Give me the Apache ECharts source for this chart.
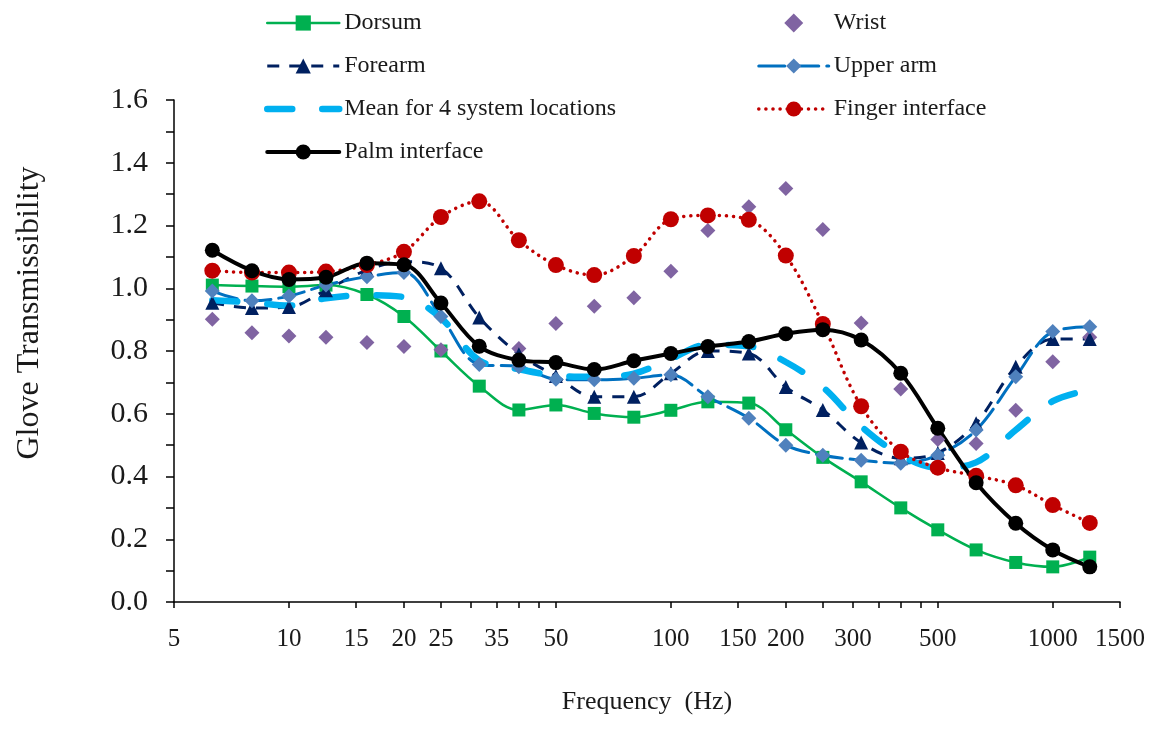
<!DOCTYPE html>
<html>
<head>
<meta charset="utf-8">
<script src="https://cdn.jsdelivr.net/npm/echarts@6/dist/echarts.min.js"></script>
<style>
  html, body { margin: 0; padding: 0; background: #fff; }
  #chart { width: 1175px; height: 747px; }
</style>
</head>
<body>
<div id="chart"></div>
<script>
// One-third-octave band centre frequencies (Hz)
const freqHz = [6.3, 8, 10, 12.5, 16, 20, 25, 31.5, 40, 50, 63, 80, 100, 125, 160, 200, 250, 315, 400, 500, 630, 800, 1000, 1250];

// Glove transmissibility at each band
const dorsum   = [1.010, 1.007, 1.005, 1.010, 0.980, 0.910, 0.800, 0.688, 0.612, 0.628, 0.601, 0.589, 0.611, 0.638, 0.634, 0.549, 0.461, 0.383, 0.300, 0.230, 0.166, 0.126, 0.112, 0.143];
const wrist    = [0.901, 0.858, 0.848, 0.844, 0.827, 0.814, 0.804, 0.815, 0.808, 0.888, 0.943, 0.970, 1.054, 1.184, 1.260, 1.318, 1.187, 0.889, 0.679, 0.518, 0.505, 0.611, 0.766, 0.844];
const forearm  = [0.954, 0.937, 0.940, 0.994, 1.058, 1.085, 1.064, 0.907, 0.790, 0.720, 0.654, 0.654, 0.729, 0.800, 0.792, 0.685, 0.612, 0.508, 0.458, 0.475, 0.570, 0.750, 0.838, 0.838];
const upperArm = [0.991, 0.960, 0.975, 1.010, 1.037, 1.050, 0.910, 0.757, 0.750, 0.710, 0.708, 0.713, 0.724, 0.654, 0.586, 0.500, 0.468, 0.452, 0.442, 0.468, 0.548, 0.718, 0.862, 0.877];
const meanSys  = [0.962, 0.955, 0.945, 0.968, 0.978, 0.972, 0.905, 0.770, 0.742, 0.722, 0.718, 0.728, 0.775, 0.820, 0.815, 0.765, 0.685, 0.560, 0.468, 0.428, 0.445, 0.548, 0.640, 0.676];
const finger   = [1.056, 1.050, 1.050, 1.053, 1.074, 1.116, 1.227, 1.277, 1.153, 1.074, 1.042, 1.103, 1.220, 1.232, 1.218, 1.104, 0.886, 0.624, 0.479, 0.428, 0.402, 0.372, 0.309, 0.252];
const palm     = [1.121, 1.056, 1.028, 1.035, 1.080, 1.075, 0.953, 0.815, 0.771, 0.763, 0.741, 0.769, 0.792, 0.814, 0.830, 0.855, 0.868, 0.835, 0.729, 0.554, 0.380, 0.251, 0.166, 0.112];

// Axis tick positions and labelled values
const xTickValues  = [5, 10, 15, 20, 25, 30, 35, 40, 45, 50, 100, 150, 200, 250, 300, 350, 400, 450, 500, 1000, 1500];
const xLabelValues = [5, 10, 15, 20, 25, 35, 50, 100, 150, 200, 300, 500, 1000, 1500];

const FONT = 'Liberation Serif';
const TEXT = '#1a1a1a';
const pairs = ys => freqHz.map((f, i) => [f, ys[i]]);

const chart = echarts.init(document.getElementById('chart'), null, { renderer: 'canvas' });

const lineSeries = (name, ys, color, lineType, width, symbol, size, extra) => Object.assign({
  name, type: 'line', data: pairs(ys), smooth: 0.35,
  symbol, symbolSize: size, showSymbol: symbol !== 'none',
  lineStyle: { color, width, type: lineType, cap: 'round' },
  itemStyle: { color, borderWidth: 0 },
  emphasis: { disabled: true }
}, extra || {});

const legendBase = {
  orient: 'vertical', top: 11, padding: 0, itemHeight: 19, itemGap: 19,
  symbolKeepAspect: true,
  lineStyle: { width: 'inherit' },
  textStyle: { fontFamily: FONT, fontSize: 24, color: TEXT }
};

chart.setOption({
  animation: false,
  backgroundColor: '#ffffff',
  grid: { left: 174, right: 55, top: 100, bottom: 145, containLabel: false },
  legend: [
    Object.assign({}, legendBase, {
      left: 264, itemWidth: 72,
      data: ['Dorsum', 'Forearm', { name: 'Mean for 4 system locations', itemStyle: { opacity: 0 } }, 'Palm interface']
    }),
    Object.assign({}, legendBase, {
      left: 757, itemWidth: 70,
      data: [{ name: 'Wrist', icon: 'path://M0,-10L10,0L0,10L-10,0Z' }, 'Upper arm', 'Finger interface']
    })
  ],
  xAxis: {
    type: 'log', logBase: 10, min: 5, max: 1500,
    name: 'Frequency  (Hz)', nameLocation: 'middle', nameGap: 87,
    nameTextStyle: { fontFamily: FONT, fontSize: 26, color: TEXT },
    axisLine: { lineStyle: { color: '#000', width: 1.5 } },
    axisTick: { show: true, inside: false, length: 6, lineStyle: { color: '#000', width: 1.5 }, customValues: xTickValues },
    axisLabel: { fontFamily: FONT, fontSize: 25, color: TEXT, margin: 25, customValues: xLabelValues,
                 formatter: v => String(Math.round(v)) },
    splitLine: { show: false },
    minorTick: { show: false }
  },
  yAxis: {
    type: 'value', min: 0, max: 1.6, interval: 0.2,
    name: 'Glove Transmissibility', nameLocation: 'middle', nameGap: 128,
    nameTextStyle: { fontFamily: FONT, fontSize: 32, color: TEXT, padding: [0, 0, 0, 76] },
    axisLine: { show: true, lineStyle: { color: '#000', width: 1.5 } },
    axisTick: { show: true, inside: false, length: 8, lineStyle: { color: '#000', width: 1.5 } },
    minorTick: { show: true, splitNumber: 2, length: 8, lineStyle: { color: '#000', width: 1.5 } },
    axisLabel: { fontFamily: FONT, fontSize: 30, color: TEXT, margin: 26, formatter: v => v.toFixed(1) },
    splitLine: { show: false }
  },
  series: [
    lineSeries('Dorsum', dorsum, '#00B050', 'solid', 2.5, 'rect', 13),
    lineSeries('Wrist', wrist, '#8064A2', 'solid', 0, 'diamond', 15,
               { lineStyle: { width: 0, opacity: 0 } }),
    lineSeries('Forearm', forearm, '#002060', [12, 10], 3, 'triangle', 14,
               { lineStyle: { color: '#002060', width: 3, type: [12, 10], cap: 'butt' } }),
    lineSeries('Upper arm', upperArm, '#0070C0', [26, 8], 3, 'diamond', 15,
               { itemStyle: { color: '#4F81BD', borderWidth: 0 } }),
    lineSeries('Mean for 4 system locations', meanSys, '#00B0F0', [25, 30], 6.5, 'none', 0),
    lineSeries('Finger interface', finger, '#C00000', [0.1, 7], 3.5, 'circle', 16),
    lineSeries('Palm interface', palm, '#000000', 'solid', 4, 'circle', 15)
  ]
});
</script>
</body>
</html>
